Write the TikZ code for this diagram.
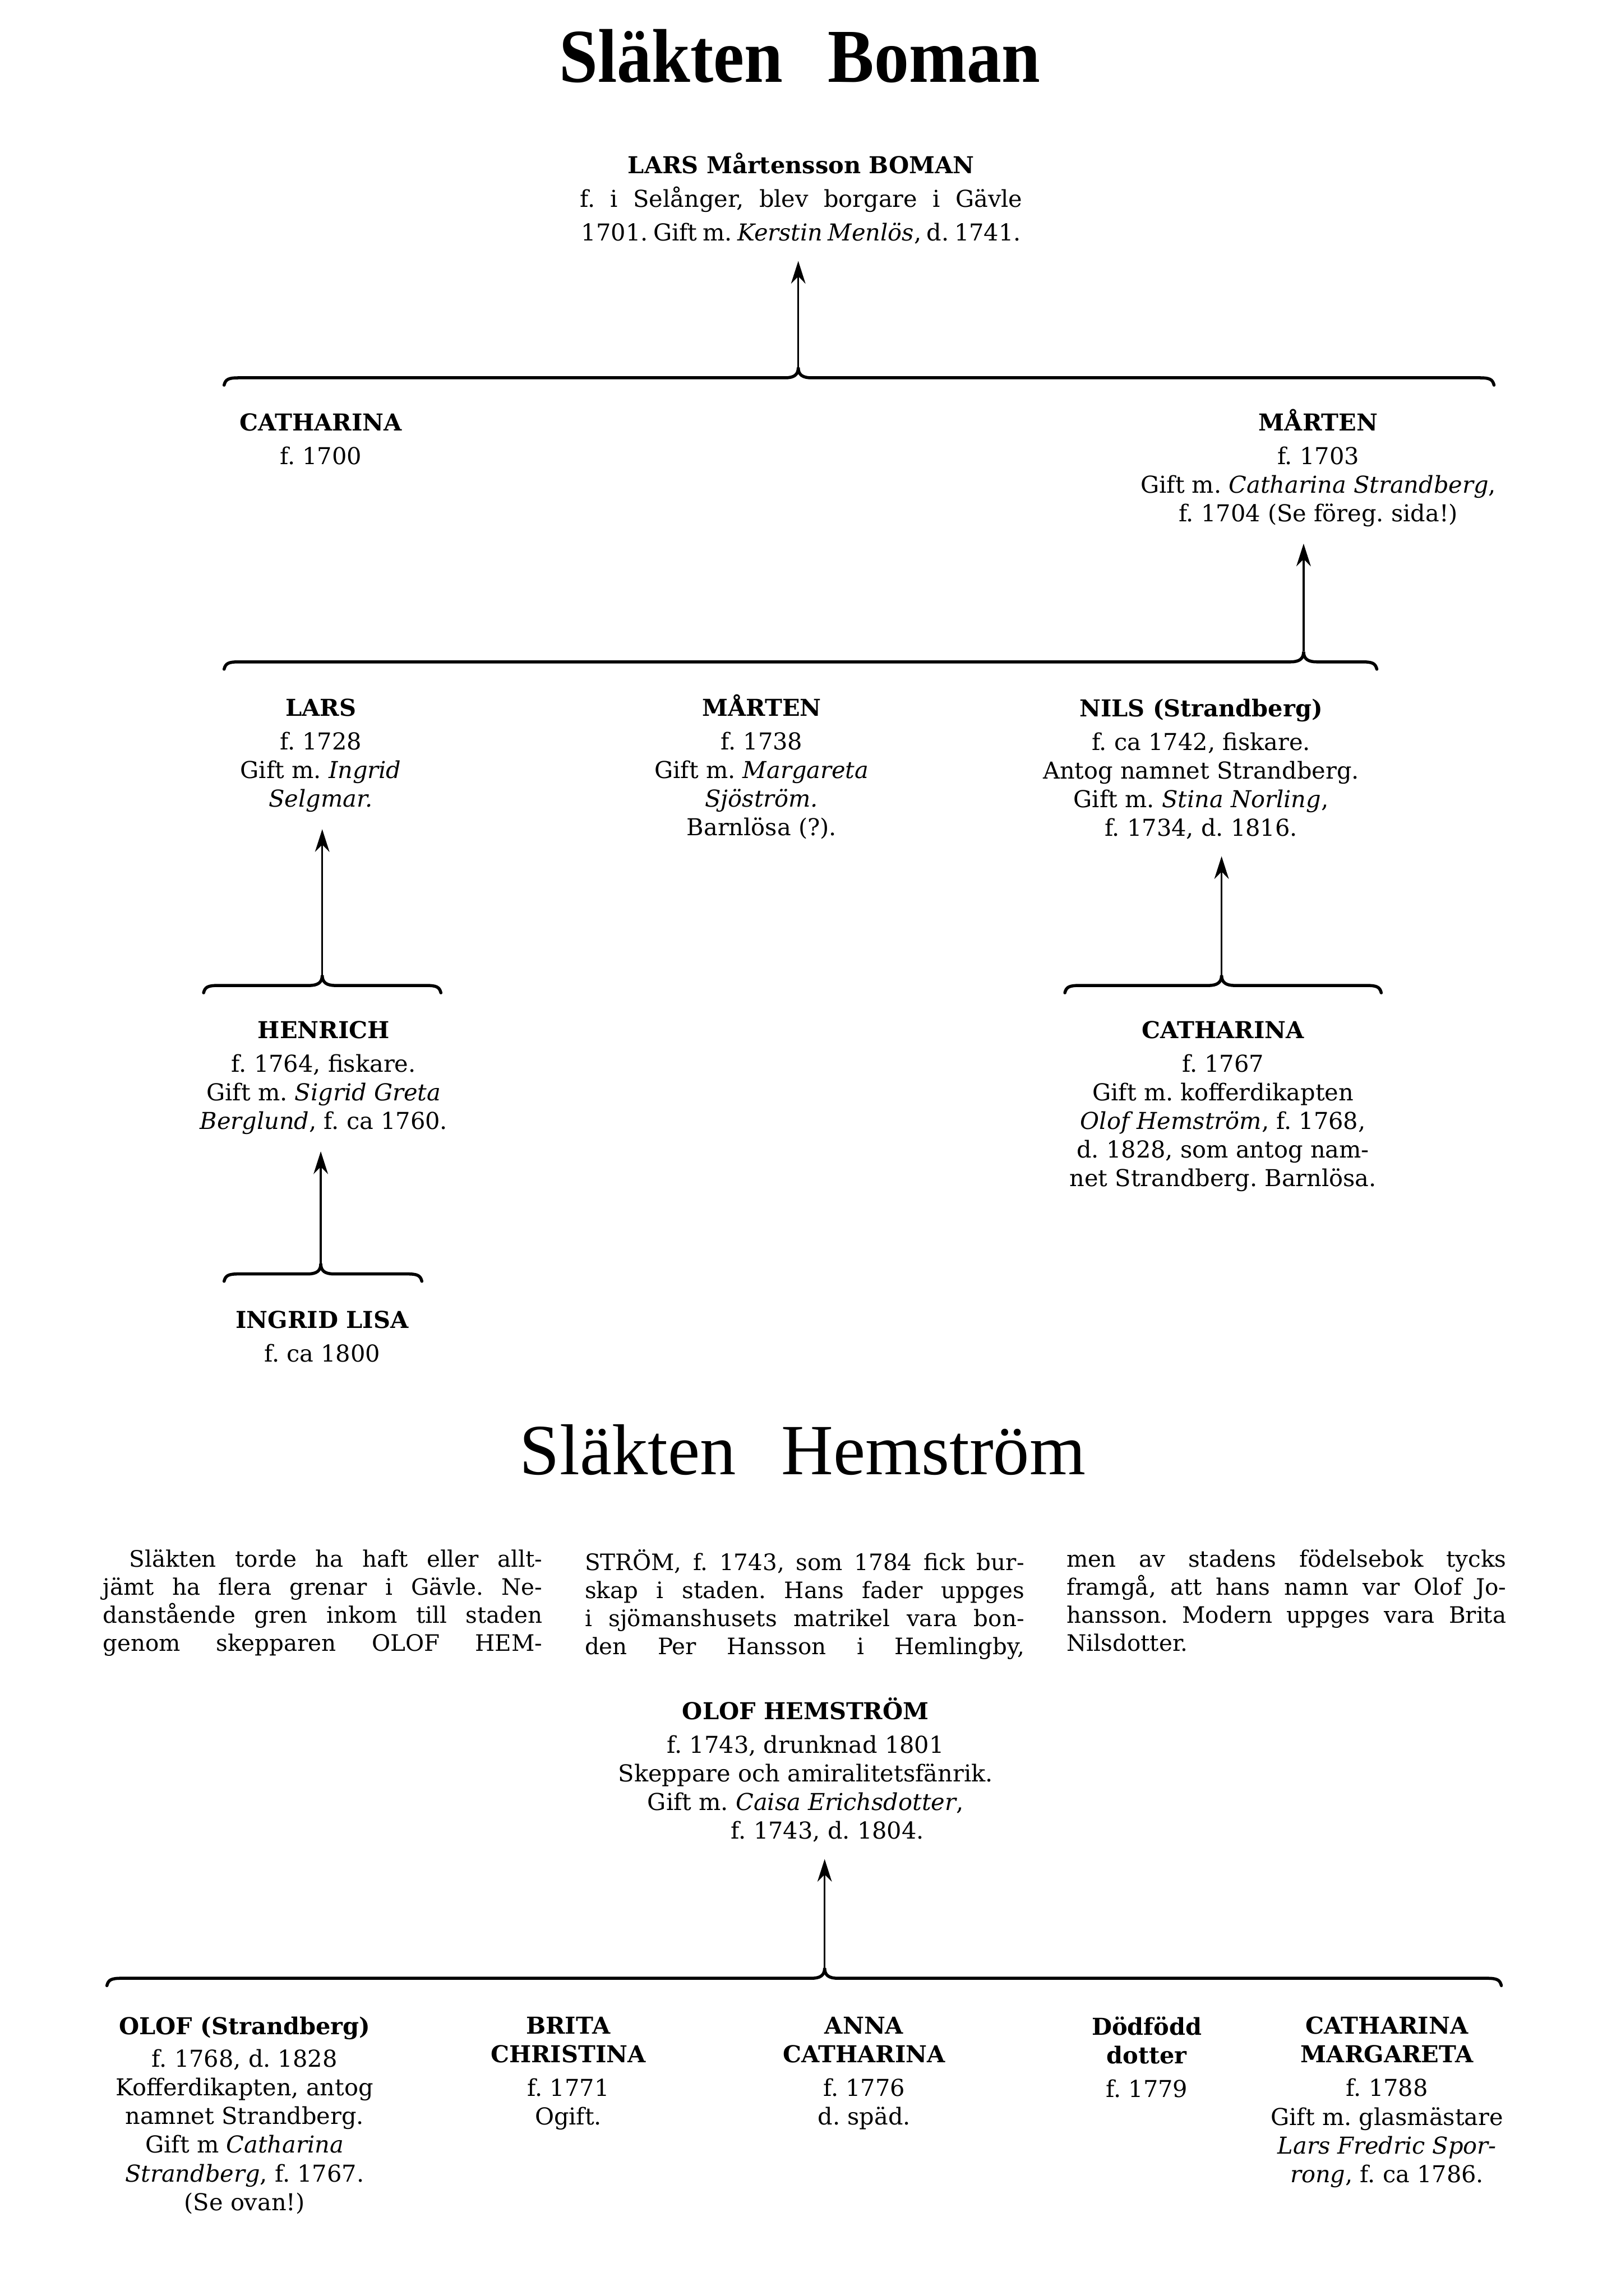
\documentclass[tikz,border=0pt]{standalone}
\usepackage{fontspec}
\setmainfont{DejaVu Serif}
\newfontfamily\titlefont[FakeStretch=0.91]{Liberation Serif}
\newfontfamily\hemfont{Liberation Serif}
\usetikzlibrary{arrows.meta}
\frenchspacing
\newcommand{\bodyfont}{\fontsize{11.3}{13.9}\selectfont}
\newcommand{\parfont}{\fontsize{11}{13.6}\selectfont}
\tikzset{
  txt/.style={inner sep=0pt, font=\bodyfont},
  person/.style={txt, align=center, anchor=north},
  para/.style={txt, font=\parfont, align=left, anchor=north west},
  famline/.style={line width=1.5pt, line cap=round},
  uparrow/.style={-{Stealth[length=11pt,width=7pt,inset=3.5pt]}, line width=0.9pt, shorten >=8pt},
}
% brace over a row of siblings: left end, tip, right end, height, name of tip
\newcommand{\sibbrace}[5]{%
  \draw[famline] (#1,#4+5) .. controls (#1+1,#4+1) and (#1+3,#4) .. (#1+10,#4)
    -- (#2-9,#4) .. controls (#2-3,#4) and (#2,#4-2) .. (#2,#4-7)
    .. controls (#2,#4-2) and (#2+3,#4) .. (#2+9,#4)
    -- (#3-10,#4) .. controls (#3-3,#4) and (#3-1,#4+1) .. (#3,#4+5);
  \coordinate (#5) at (#2,#4-7);
}

\begin{document}
\begin{tikzpicture}[x=0.025cm, y=-0.025cm]
  \useasboundingbox (0,0) rectangle (1097,1568);

  % Slakten Boman
  \node[anchor=base, font=\titlefont\bfseries\fontsize{37}{40}\selectfont] (bomantitle) at (546,56) {Släkten\hspace{22pt}Boman};

  \node[person, font=\fontsize{11.3}{16.4}\selectfont] (boman) at (547,104)
    {\textbf{LARS Mårtensson BOMAN}\\
     \makebox[7.55cm][s]{f. i Selånger, blev borgare i Gävle}\\
     \makebox[7.5cm][s]{1701. Gift m. \textit{Kerstin Menlös}, d. 1741.}};

  \sibbrace{153}{545}{1020}{258}{b1}
  \draw[uparrow] (b1) -- (b1 |- boman.south);

  \node[person] (cath1) at (219,282) {\textbf{CATHARINA}\\[2.5pt] f. 1700};
  \node[person] (marten1) at (900,279)
    {\textbf{MÅRTEN}\\[2.5pt] f. 1703\\ Gift m. \textit{Catharina Strandberg},\\ f. 1704 (Se föreg. sida!)};

  \sibbrace{153}{890}{940}{452}{b2}
  \draw[uparrow] (b2) -- (b2 |- marten1.south);

  \node[person] (lars2) at (219,477)
    {\textbf{LARS}\\[2.5pt] f. 1728\\ Gift m. \textit{Ingrid}\\ \textit{Selgmar.}};
  \node[person] (marten2) at (520,474)
    {\textbf{MÅRTEN}\\[2.5pt] f. 1738\\ Gift m. \textit{Margareta}\\ \textit{Sjöström.}\\ Barnlösa (?).};
  \node[person] (nils2) at (820,477)
    {\textbf{NILS (Strandberg)}\\[2.5pt] f. ca 1742, fiskare.\\ Antog namnet Strandberg.\\ Gift m. \textit{Stina Norling},\\ f. 1734, d. 1816.};

  \sibbrace{139}{220}{301}{673}{b3}
  \draw[uparrow] (b3) -- (b3 |- lars2.south);
  \sibbrace{727}{834}{943}{673}{b4}
  \draw[uparrow] (b4) -- (b4 |- nils2.south);

  \node[person] (henrich) at (221,697)
    {\textbf{HENRICH}\\[2.5pt] f. 1764, fiskare.\\ Gift m. \textit{Sigrid Greta}\\ \textit{Berglund}, f. ca 1760.};
  \node[person] (cath3) at (835,697)
    {\textbf{CATHARINA}\\[2.5pt] f. 1767\\ Gift m. kofferdikapten\\ \textit{Olof Hemström}, f. 1768,\\ d. 1828, som antog nam-\\ net Strandberg. Barnlösa.};

  \sibbrace{153}{219}{288}{870}{b5}
  \draw[uparrow] (b5) -- (b5 |- henrich.south);

  \node[person] (ingrid) at (220,895) {\textbf{INGRID LISA}\\[2.5pt] f. ca 1800};

  % Slakten Hemstrom
  \node[anchor=base, font=\hemfont\fontsize{35}{40}\selectfont] (hemtitle) at (548,1007) {Släkten\hspace{22pt}Hemström};

  \node[para] (parA) at (70,1058)
    {\hspace*{0.45cm}\makebox[7.05cm][s]{Släkten torde ha haft eller allt-}\\
     \makebox[7.5cm][s]{jämt ha flera grenar i Gävle. Ne-}\\
     \makebox[7.5cm][s]{danstående gren inkom till staden}\\
     \makebox[7.5cm][s]{genom skepparen OLOF HEM-}};
  \node[para] (parB) at (399,1058)
    {\makebox[7.5cm][s]{STRÖM, f. 1743, som 1784 fick bur-}\\
     \makebox[7.5cm][s]{skap i staden. Hans fader uppges}\\
     \makebox[7.5cm][s]{i sjömanshusets matrikel vara bon-}\\
     \makebox[7.5cm][s]{den Per Hansson i Hemlingby,}};
  \node[para] (parC) at (728,1058)
    {\makebox[7.5cm][s]{men av stadens födelsebok tycks}\\
     \makebox[7.5cm][s]{framgå, att hans namn var Olof Jo-}\\
     \makebox[7.5cm][s]{hansson. Modern uppges vara Brita}\\
     Nilsdotter.};

  \node[person] (hemstrom) at (550,1159)
    {\textbf{OLOF HEMSTRÖM}\\[2.5pt] f. 1743, drunknad 1801\\ Skeppare och amiralitetsfänrik.\\ Gift m. \textit{Caisa Erichsdotter},\\ \hspace*{0.75cm}f. 1743, d. 1804.};

  \sibbrace{73}{563}{1025}{1351}{b6}
  \draw[uparrow] (b6) -- (b6 |- hemstrom.south);

  \node[person] (olof) at (167,1377)
    {\textbf{OLOF (Strandberg)}\\[2pt] f. 1768, d. 1828\\ Kofferdikapten, antog\\ namnet Strandberg.\\ Gift m \textit{Catharina}\\ \textit{Strandberg}, f. 1767.\\ (Se ovan!)};
  \node[person] (brita) at (388,1377)
    {\textbf{BRITA}\\ \textbf{CHRISTINA}\\[2.5pt] f. 1771\\ Ogift.};
  \node[person] (anna) at (590,1377)
    {\textbf{ANNA}\\ \textbf{CATHARINA}\\[2.5pt] f. 1776\\ d. späd.};
  \node[person] (dodfodd) at (783,1377)
    {\textbf{Dödfödd}\\ \textbf{dotter}\\[2.5pt] f. 1779};
  \node[person] (cathm) at (947,1377)
    {\textbf{CATHARINA}\\ \textbf{MARGARETA}\\[2.5pt] f. 1788\\ Gift m. glasmästare\\ \textit{Lars Fredric Spor-}\\ \textit{rong}, f. ca 1786.};
\end{tikzpicture}
\end{document}
